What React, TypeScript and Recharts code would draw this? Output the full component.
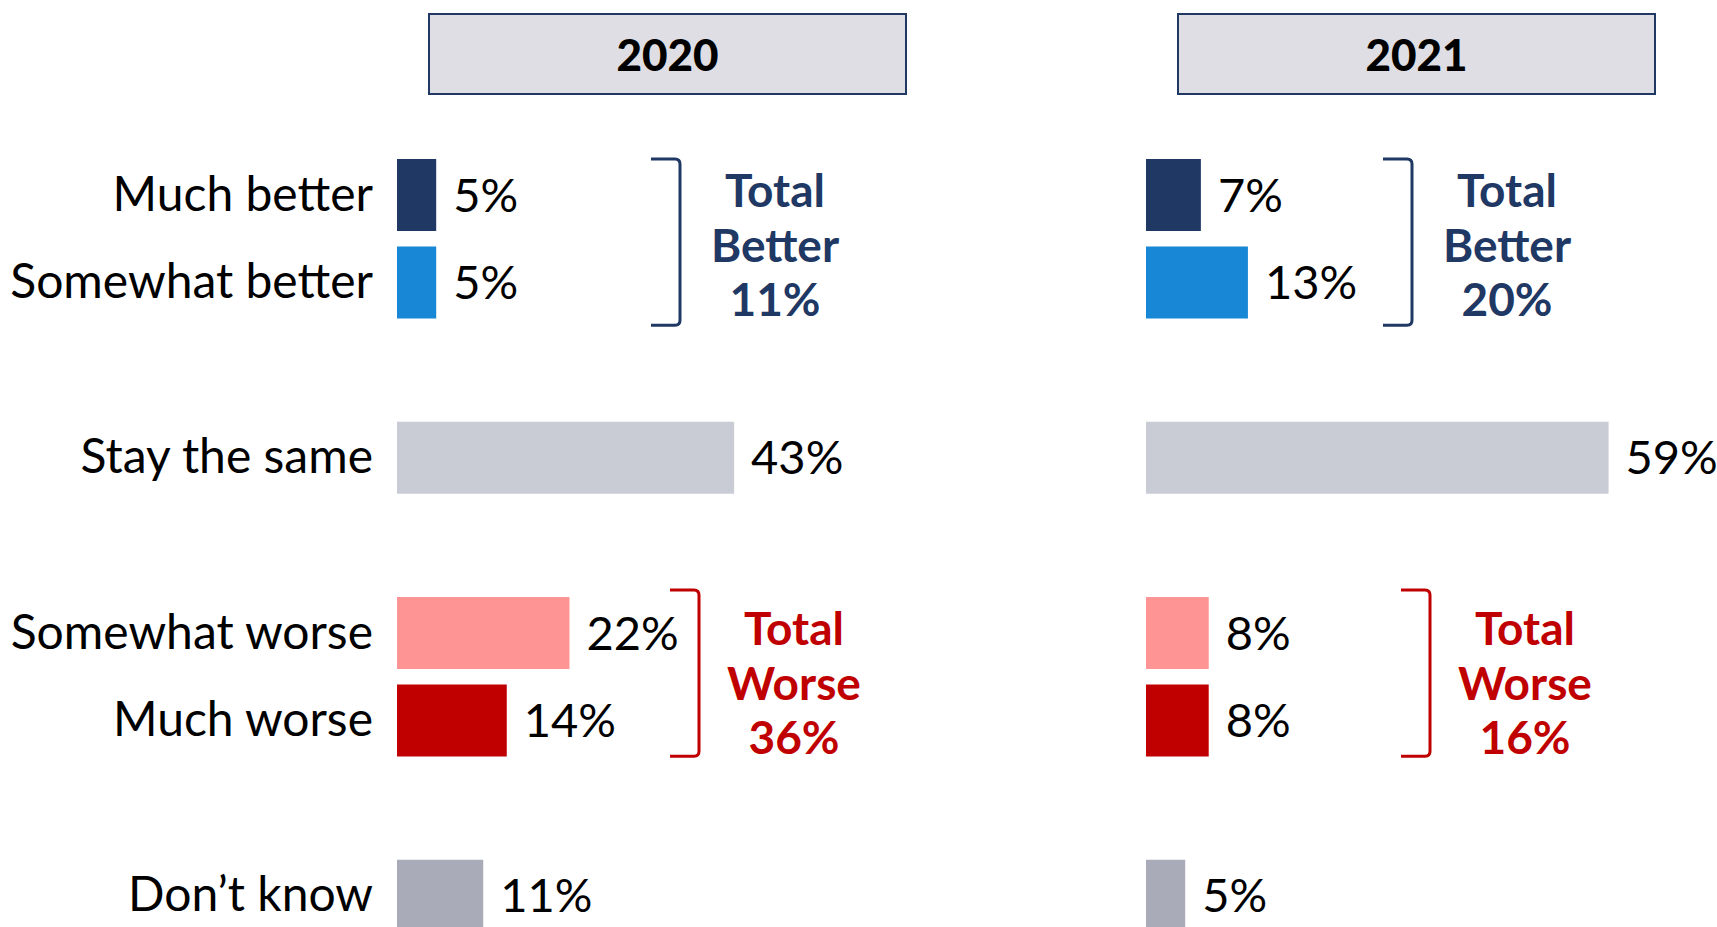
import React from "react";
import { BarChart, Bar, XAxis, YAxis, Cell, LabelList, ReferenceArea } from "recharts";

// rows, top to bottom; "gap-*" rows are the empty spacer rows
const categories = [
  "Much better",
  "Somewhat better",
  "gap-1",
  "Stay the same",
  "gap-2",
  "Somewhat worse",
  "Much worse",
  "gap-3",
  "Don’t know",
];
const values2020 = [5, 5, null, 43, null, 22, 14, null, 11];
const values2021 = [7, 13, null, 59, null, 8, 8, null, 5];
const barColors = ["#1F3864", "#1787D6", "none", "#C9CCD5", "none", "#FF9494", "#C00000", "none", "#A9ABB8"];

const years = ["2020", "2021"];
const totalBetter = [11, 20];
const totalWorse = [36, 16];

const NAVY = "#1F3864";
const RED = "#C00000";
const X_MAX = 60;
const PLOT_W = 470.4;
const CHART_H = 945;
const MARGIN_TOP = 151;
const FONT = "Lato, 'Open Sans', sans-serif";

const isGap = (k: string) => k.startsWith("gap");

function CategoryTick({ x, y, payload }: any) {
  if (isGap(payload.value)) return <g />;
  return (
    <text x={x} y={y} dy="0.33em" textAnchor="end" fontSize={48} fill="#000">
      {payload.value}
    </text>
  );
}

function Bracket({ x, y, height, offset, color, insetTop, insetBottom, lines }: any) {
  const xr = x + offset;
  const top = y + insetTop;
  const bottom = y + height - insetBottom;
  const mid = y + height / 2;
  const arm = 29;
  const r = 5;
  const d = `M${xr - arm},${top} L${xr - r},${top} Q${xr},${top} ${xr},${top + r} L${xr},${bottom - r} Q${xr},${bottom} ${xr - r},${bottom} L${xr - arm},${bottom}`;
  const dys = [-47, 8, 62];
  return (
    <g>
      <path d={d} fill="none" stroke={color} strokeWidth={3} />
      {lines.map((t: string, i: number) => (
        <text
          key={i}
          x={xr + 95}
          y={mid + dys[i]}
          dy="0.34em"
          textAnchor="middle"
          fontSize={46}
          fontWeight={700}
          fill={color}
        >
          {t}
        </text>
      ))}
    </g>
  );
}

interface PanelProps {
  year: string;
  values: (number | null)[];
  better: number;
  worse: number;
  left: number;
  width: number;
  plotLeft: number;
  showAxis: boolean;
  betterOffset: number;
  worseOffset: number;
}

function Panel({ year, values, better, worse, left, width, plotLeft, showAxis, betterOffset, worseOffset }: PanelProps) {
  const data = categories.map((key, i) => ({ key, value: values[i] }));
  const marginLeft = showAxis ? 0 : plotLeft;
  const marginRight = width - plotLeft - PLOT_W;
  return (
    <div style={{ position: "absolute", left, top: 0, width, height: CHART_H }}>
      <div
        style={{
          position: "absolute",
          left: plotLeft + 31,
          top: 13,
          width: 479,
          height: 82,
          boxSizing: "border-box",
          border: `2px solid ${NAVY}`,
          background: "#DEDEE4",
          display: "flex",
          alignItems: "center",
          justifyContent: "center",
          fontSize: 44,
          fontWeight: 900,
          color: "#000",
        }}
      >
        {year}
      </div>
      <BarChart
        width={width}
        height={CHART_H}
        data={data}
        layout="vertical"
        margin={{ top: MARGIN_TOP, right: marginRight, bottom: CHART_H - MARGIN_TOP - 788.4, left: marginLeft }}
      >
        <XAxis type="number" domain={[0, X_MAX]} hide />
        <YAxis
          type="category"
          dataKey="key"
          hide={!showAxis}
          width={plotLeft}
          axisLine={false}
          tickLine={false}
          tickSize={0}
          tickMargin={24}
          interval={0}
          tick={<CategoryTick />}
        />
        <Bar dataKey="value" barSize={72} isAnimationActive={false}>
          {data.map((d, i) => (
            <Cell key={d.key} fill={barColors[i]} />
          ))}
          <LabelList
            dataKey="value"
            position="right"
            offset={17}
            formatter={(v: any) => (v == null ? "" : `${v}%`)}
            style={{ fontSize: 47, fill: "#000" }}
          />
        </Bar>
        <ReferenceArea
          x1={0}
          x2={X_MAX}
          y1="Much better"
          y2="Somewhat better"
          ifOverflow="visible"
          shape={(p: any) => (
            <Bracket
              {...p}
              offset={betterOffset}
              color={NAVY}
              insetTop={8}
              insetBottom={1}
              lines={["Total", "Better", `${better}%`]}
            />
          )}
        />
        <ReferenceArea
          x1={0}
          x2={X_MAX}
          y1="Somewhat worse"
          y2="Much worse"
          ifOverflow="visible"
          shape={(p: any) => (
            <Bracket
              {...p}
              offset={worseOffset}
              color={RED}
              insetTop={1}
              insetBottom={8}
              lines={["Total", "Worse", `${worse}%`]}
            />
          )}
        />
      </BarChart>
    </div>
  );
}

export default function App() {
  return (
    <div
      style={{
        position: "fixed",
        left: 0,
        top: 0,
        width: 1717,
        height: 927,
        overflow: "hidden",
        background: "#fff",
        fontFamily: FONT,
      }}
    >
      <Panel
        year={years[0]}
        values={values2020}
        better={totalBetter[0]}
        worse={totalWorse[0]}
        left={0}
        width={1000}
        plotLeft={397}
        showAxis
        betterOffset={283}
        worseOffset={302}
      />
      <Panel
        year={years[1]}
        values={values2021}
        better={totalBetter[1]}
        worse={totalWorse[1]}
        left={1000}
        width={717}
        plotLeft={146}
        showAxis={false}
        betterOffset={266}
        worseOffset={284}
      />
    </div>
  );
}
